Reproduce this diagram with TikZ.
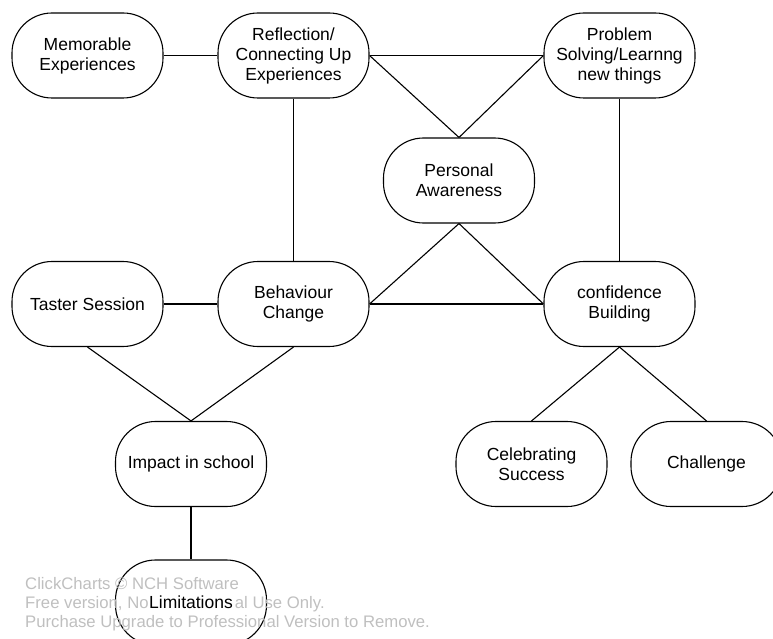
\documentclass[tikz,border=0pt]{standalone}
\usepackage{fontspec}
\setmainfont{Liberation Sans}
\begin{document}
\begin{tikzpicture}[x=1pt,y=-1pt,
  box/.style={draw, line width=1.1pt, rounded corners=40pt, minimum width=151pt, minimum height=85pt,
    align=center, inner sep=0pt, font=\fontsize{17.5}{20}\selectfont},
  link/.style={line width=1.1pt},
  wm/.style={text=black!25, font=\fontsize{16.7}{19}\selectfont, align=left, anchor=north west, inner sep=0pt}]
\useasboundingbox (0,0) rectangle (773,639);
\clip (0,0) rectangle (773,639);
\node[box] (mem) at (87.5,55.5) {Memorable\\Experiences};
\node[box] (refl) at (293.5,55.5) {Reflection/\\Connecting Up\\Experiences};
\node[box] (prob) at (619.5,55.5) {Problem\\Solving/Learnng\\new things};
\node[box] (pers) at (459,180.5) {Personal\\Awareness};
\node[box] (tast) at (87.5,304) {Taster Session};
\node[box] (beh) at (293.5,304) {Behaviour\\Change};
\node[box] (conf) at (619.5,304) {confidence\\Building};
\node[box] (imp) at (191,464) {Impact in school};
\node[box] (cel) at (531.5,464) {Celebrating\\Success};
\node[box] (chal) at (706.5,464) {Challenge};
\node[box] (lim) at (191,602.5) {};
\node[wm] (wmark) at (25,577) {ClickCharts © NCH Software\\Free version, Not for Personal Use Only.\\Purchase Upgrade to Professional Version to Remove.};
\node[fill=white, inner sep=1pt, font=\fontsize{17.5}{20}\selectfont] (limtext) at (lim.center) {Limitations};
\draw[link] (mem.east) -- (refl.west);
\draw[link] (refl.east) -- (prob.west);
\draw[link] (refl.east) -- (pers.north);
\draw[link] (prob.west) -- (pers.north);
\draw[link] (refl.south) -- (beh.north);
\draw[link] (prob.south) -- (conf.north);
\draw[link] (tast.east) -- (beh.west);
\draw[link] (beh.east) -- (conf.west);
\draw[link] (pers.south) -- (beh.east);
\draw[link] (pers.south) -- (conf.west);
\draw[link] (tast.south) -- (imp.north);
\draw[link] (beh.south) -- (imp.north);
\draw[link] (conf.south) -- (cel.north);
\draw[link] (conf.south) -- (chal.north);
\draw[link] (imp.south) -- (lim.north);
\end{tikzpicture}
\end{document}
